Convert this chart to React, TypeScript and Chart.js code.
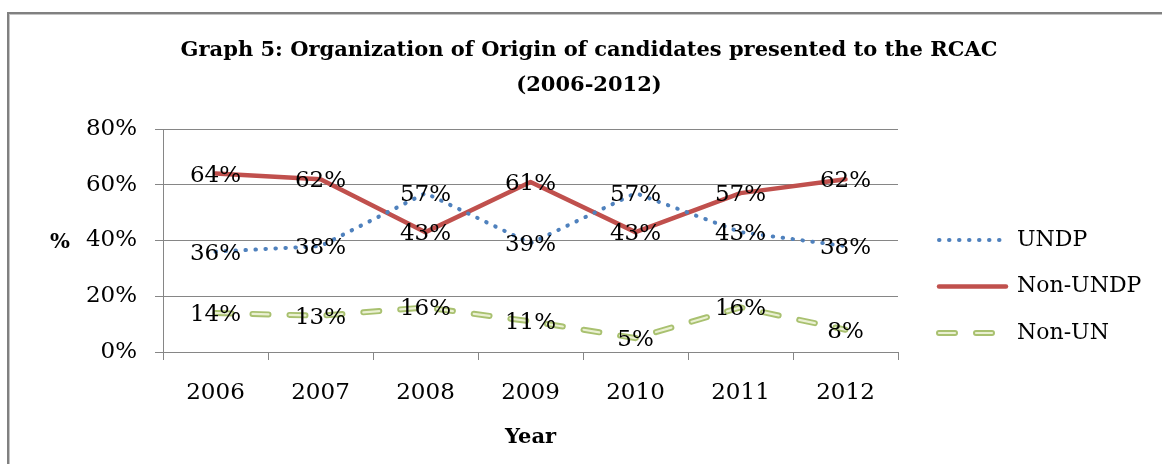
import React, { useEffect, useRef } from "react";
import { Chart, registerables } from "chart.js";

Chart.register(...registerables);

const years = ["2006", "2007", "2008", "2009", "2010", "2011", "2012"];
const undp = [36, 38, 57, 39, 57, 43, 38];
const nonUndp = [64, 62, 43, 61, 43, 57, 62];
const nonUn = [14, 13, 16, 11, 5, 16, 8];
const yTickValues = [0, 20, 40, 60, 80];
const seriesNames = ["UNDP", "Non-UNDP", "Non-UN"];
const titleLines = [
  "Graph 5: Organization of Origin of candidates presented to the RCAC",
  "(2006-2012)",
];
const xTitle = "Year";
const yTitle = "%";

const SERIF = "'DejaVu Serif', serif";
const GRID = "#868686";
const GREEN_INNER = "#EAF0D2";
const LEGEND_FONT = 22;
const LEGEND_PAD = 24.5;
const LEGEND_BOX = 67;
const GREEN_DASH = [16, 21];

const customPlugin = {
  id: "customBits",
  afterUpdate(chart: any) {
    const tb = chart.titleBlock;
    if (tb) {
      tb.left = 16;
      tb.right = 1162;
      tb.width = tb.right - tb.left;
    }
    const lg = chart.legend;
    if (lg) {
      lg.left = 939 - LEGEND_PAD;
      lg.right = 1162;
      lg.top = 240 - LEGEND_FONT / 2 - LEGEND_PAD;
      lg.bottom = 464;
      lg.width = lg.right - lg.left;
      lg.height = lg.bottom - lg.top;
      if (lg.adjustHitBoxes) lg.adjustHitBoxes();
    }
  },
  afterDatasetDraw(chart: any, args: any) {
    if (args.index !== 2) return;
    const pts = args.meta.data;
    const ctx = chart.ctx;
    ctx.save();
    ctx.beginPath();
    pts.forEach((p: any, i: number) => {
      if (i === 0) ctx.moveTo(p.x, p.y);
      else ctx.lineTo(p.x, p.y);
    });
    ctx.setLineDash(GREEN_DASH);
    ctx.lineCap = "round";
    ctx.lineJoin = "round";
    ctx.lineWidth = 2.2;
    ctx.strokeStyle = GREEN_INNER;
    ctx.stroke();
    ctx.restore();
  },
  afterDatasetsDraw(chart: any) {
    const ctx = chart.ctx;
    ctx.save();
    ctx.font = `23px ${SERIF}`;
    ctx.fillStyle = "#000";
    ctx.textAlign = "center";
    ctx.textBaseline = "middle";
    chart.data.datasets.forEach((ds: any, i: number) => {
      const meta = chart.getDatasetMeta(i);
      meta.data.forEach((el: any, j: number) => {
        ctx.fillText(`${ds.data[j]}%`, el.x, el.y + 2);
      });
    });
    ctx.restore();
  },
  afterDraw(chart: any) {
    const ctx = chart.ctx;
    ctx.save();
    // y axis title (horizontal)
    ctx.font = `bold 21px ${SERIF}`;
    ctx.fillStyle = "#000";
    ctx.textAlign = "center";
    ctx.textBaseline = "middle";
    ctx.fillText(yTitle, 60, 243);
    // inner pale stroke of the Non-UN legend sample
    const lg = chart.legend;
    if (lg) {
      const x0 = lg.left + LEGEND_PAD;
      const y = lg.top + LEGEND_PAD + 2 * (LEGEND_FONT + LEGEND_PAD) + LEGEND_FONT / 2;
      ctx.beginPath();
      ctx.moveTo(x0, y);
      ctx.lineTo(x0 + LEGEND_BOX, y);
      ctx.setLineDash(GREEN_DASH);
      ctx.lineCap = "round";
      ctx.lineWidth = 2.2;
      ctx.strokeStyle = GREEN_INNER;
      ctx.stroke();
    }
    ctx.restore();
  },
};

export default function App() {
  const ref = useRef<HTMLCanvasElement>(null);

  useEffect(() => {
    if (!ref.current) return;
    Chart.defaults.font.family = SERIF;
    const chart = new Chart(ref.current, {
      type: "line",
      data: {
        labels: years,
        datasets: [
          {
            label: seriesNames[0],
            data: undp,
            borderColor: "#4F81BD",
            borderWidth: 4,
            borderDash: [0.5, 9.5],
            borderCapStyle: "round",
            pointRadius: 0,
            tension: 0,
            fill: false,
          },
          {
            label: seriesNames[1],
            data: nonUndp,
            borderColor: "#C0504D",
            borderWidth: 4.5,
            borderCapStyle: "round",
            borderJoinStyle: "round",
            pointRadius: 0,
            tension: 0,
            fill: false,
          },
          {
            label: seriesNames[2],
            data: nonUn,
            borderColor: "#A9C170",
            borderWidth: 6,
            borderDash: GREEN_DASH,
            borderCapStyle: "round",
            pointRadius: 0,
            tension: 0,
            fill: false,
          },
        ],
      },
      options: {
        animation: false,
        responsive: false,
        events: [],
        layout: { padding: { left: 0, right: 64, top: 0, bottom: 0 } },
        plugins: {
          title: {
            display: true,
            text: titleLines,
            color: "#000",
            font: { family: SERIF, weight: "bold", size: 21, lineHeight: 35 / 21 },
            padding: { top: 33.5, bottom: 25.5 },
          },
          legend: {
            position: "right",
            maxWidth: 200,
            align: "start",
            labels: {
              usePointStyle: true,
              pointStyleWidth: LEGEND_BOX,
              padding: LEGEND_PAD,
              color: "#000",
              font: { family: SERIF, size: LEGEND_FONT },
              generateLabels: (c: any) =>
                c.data.datasets.map((ds: any, i: number) => ({
                  text: ds.label,
                  fillStyle: "transparent",
                  strokeStyle: ds.borderColor,
                  lineWidth: ds.borderWidth,
                  lineDash: ds.borderDash || [],
                  lineDashOffset: 0,
                  lineCap: ds.borderCapStyle,
                  lineJoin: "round",
                  pointStyle: "line",
                  rotation: 0,
                  hidden: false,
                  datasetIndex: i,
                  fontColor: "#000",
                })),
            },
          },
          tooltip: { enabled: false },
        },
        scales: {
          x: {
            offset: true,
            grid: {
              offset: true,
              drawOnChartArea: false,
              drawTicks: true,
              tickLength: 8,
              color: GRID,
            },
            border: { color: GRID },
            ticks: { color: "#000", font: { family: SERIF, size: 23 }, padding: 19 },
            title: {
              display: true,
              text: xTitle,
              color: "#000",
              font: { family: SERIF, weight: "bold", size: 21 },
              padding: { top: 0, bottom: 13.4 },
            },
            afterFit: (s: any) => {
              s.height = 112;
            },
          },
          y: {
            min: 0,
            max: 80,
            afterBuildTicks: (s: any) => {
              s.ticks = yTickValues.map((v) => ({ value: v }));
            },
            ticks: {
              color: "#000",
              font: { family: SERIF, size: 23 },
              padding: 18,
              callback: (v: any) => `${v}%`,
            },
            grid: { color: GRID, tickLength: 8 },
            border: { color: GRID },
            afterFit: (s: any) => {
              s.width = 163;
            },
          },
        },
      },
      plugins: [customPlugin],
    } as any);
    return () => chart.destroy();
  }, []);

  return (
    <div
      style={{
        position: "fixed",
        left: 0,
        top: 0,
        width: 1162,
        height: 464,
        overflow: "hidden",
        background: "#fff",
      }}
    >
      <div
        style={{
          position: "absolute",
          left: 7,
          top: 12,
          width: 1300,
          height: 600,
          borderTop: "2px solid #808080",
          borderLeft: "2px solid #808080",
          boxShadow: "inset 1px 1px 0 #c4c4c4",
        }}
      />
      <canvas
        ref={ref}
        width={1162}
        height={464}
        style={{ position: "absolute", left: 0, top: 0, width: 1162, height: 464 }}
      />
    </div>
  );
}
